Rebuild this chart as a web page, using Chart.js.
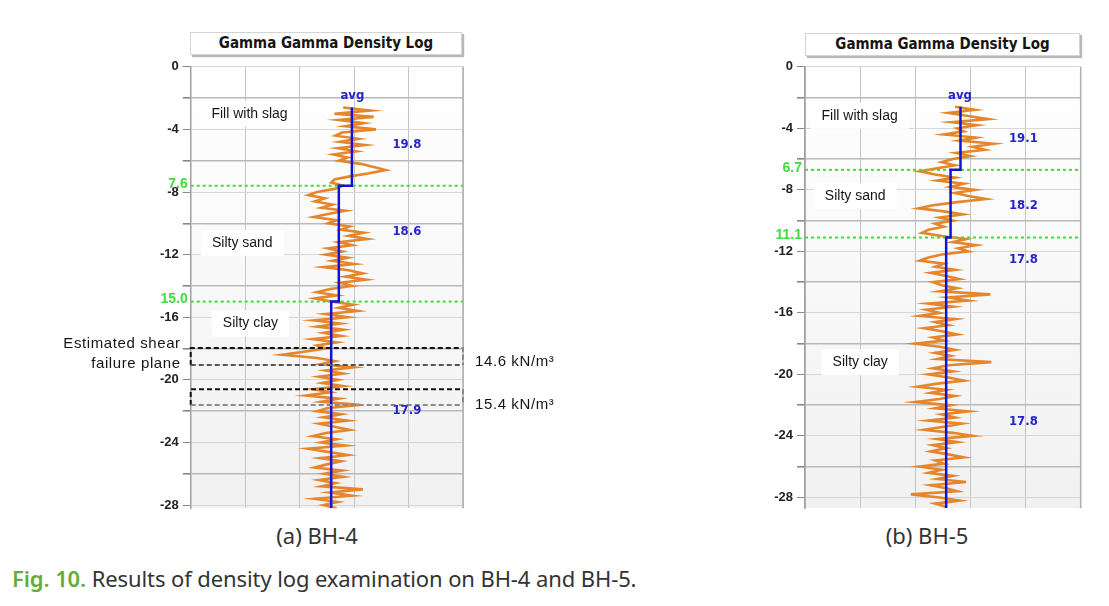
<!DOCTYPE html>
<html>
<head>
<meta charset="utf-8">
<script src="https://cdn.jsdelivr.net/npm/chart.js@4.4.1/dist/chart.umd.min.js"></script>
<style>
body{margin:0;width:1109px;height:606px;background:#fff;position:relative;overflow:hidden;font-family:'Noto Sans',sans-serif;}
canvas{position:absolute;}
.title{position:absolute;height:21px;border:1px solid #d4d4d4;box-shadow:2px 2px 1px #b8b8b8;background:#fff;font:bold 15px 'DejaVu Sans Condensed',sans-serif;text-align:center;line-height:21px;color:#151515;}
.cap{position:absolute;font-size:22px;color:#333;text-align:center;width:200px;}
.fig{position:absolute;left:12px;top:563px;font-size:22px;color:#333;letter-spacing:-0.1px;}
.fig b{color:#63ad37;font-weight:600;}
</style>
</head>
<body>
<div class="title" style="left:190px;top:32px;width:270px;">Gamma Gamma Density Log</div>
<div class="title" style="left:805px;top:33px;width:273px;">Gamma Gamma Density Log</div>
<canvas id="bh4" width="540" height="465" style="left:30px;top:55px;width:540px;height:465px;"></canvas>
<canvas id="bh5" width="360" height="465" style="left:740px;top:55px;width:360px;height:465px;"></canvas>
<div class="cap" style="left:217px;top:520px;">(a) BH-4</div>
<div class="cap" style="left:827px;top:520px;">(b) BH-5</div>
<div class="fig"><b>Fig. 10.</b> Results of density log examination on BH-4 and BH-5.</div>
<script>
// depth sampling of the logs (m)
const depthStep = 0.2;
const bh4Top = 2.6;
const bh5Top = 2.6;

// BH-4 density readings, kN/m3, from 2.6 m downwards
const bh4Density = [
  19.0,21.5,18.2,21.8,18.6,20.9,19.2,22.0,18.9,18.3,20.4,18.7,21.0,18.5,20.2,18.1,19.4,18.6,20.6,21.8,22.9,21.4,19.6,18.2,17.9,19.0,
  18.2,16.6,15.8,17.3,16.4,18.0,17.0,19.2,17.6,16.3,18.4,17.6,19.6,18.8,20.9,19.5,21.2,18.6,19.8,17.6,
  18.9,17.4,19.4,18.0,20.0,17.2,19.5,20.8,19.2,21.1,18.7,19.8,17.8,16.6,18.4,16.4,17.9,
  19.9,18.6,20.3,17.4,19.4,16.3,18.7,16.6,19.0,17.2,18.8,16.2,18.4,16.6,17.4,15.4,13.4,16.6,18.2,16.9,
  19.9,17.4,19.0,16.8,18.5,17.1,19.0,16.3,17.8,15.6,18.6,17.0,20.5,17.6,16.6,18.8,17.2,19.4,16.8,18.2,
  19.6,17.4,16.2,18.4,17.0,19.2,15.8,17.6,19.4,16.9,18.8,17.5,16.4,18.9,17.3,19.0,16.8,18.3,17.0,20.8,
  17.8,19.8,16.4,18.5,17.2,18.4
];
const bh4Bounds = [2.6, 7.6, 15.0];
const bh4Avg = [19.8, 18.6, 17.9];
const bh4Layers = ['Fill with slag', 'Silty sand', 'Silty clay'];

// BH-5 density readings
const bh5Density = [
  18.6,20.4,18.0,19.8,21.6,18.3,20.6,18.8,19.4,17.6,20.5,19.0,22.1,20.2,21.3,18.7,20.0,18.4,17.4,18.6,17.0,
  15.4,16.8,18.6,17.0,19.4,18.2,20.4,18.6,19.8,21.4,18.8,16.6,15.3,17.6,19.3,17.2,18.4,16.8,17.6,16.2,15.6,17.4,
  19.6,18.4,20.5,18.9,19.8,17.4,16.2,15.4,17.6,16.8,18.6,16.4,17.8,19.0,16.6,17.4,18.8,17.2,21.8,18.0,
  19.8,16.2,18.4,16.0,17.2,15.4,18.6,16.8,18.0,15.8,17.4,18.8,16.6,17.6,15.0,17.2,18.6,16.8,18.2,17.0,
  21.9,18.0,16.6,18.4,16.2,18.0,19.4,17.0,15.2,17.8,16.4,18.6,17.2,15.0,18.2,16.8,19.8,17.4,18.6,16.2,
  19.2,17.6,15.8,18.4,20.2,17.0,18.8,16.6,17.8,16.4,18.0,19.4,16.8,17.6,15.4,17.4,16.2,18.4,17.0,19.6,
  16.4,17.8,18.8,14.6,17.2,19.0,16.8,17.8
];
const bh5Bounds = [2.6, 6.7, 11.1];
const bh5Avg = [19.1, 18.2, 17.8];
const bh5Layers = ['Fill with slag', 'Silty sand', 'Silty clay'];

const yTicks = [0,-2,-4,-6,-8,-10,-12,-14,-16,-18,-20,-22,-24,-26,-28];

const orange = '#e5862c';
const blue = '#1212d6';
const green = '#3ddd3d';

const plotBg = {
  id: 'plotBg',
  beforeDraw(chart) {
    const {ctx, chartArea: a} = chart;
    const g = ctx.createLinearGradient(0, a.top, 0, a.bottom);
    g.addColorStop(0, '#ffffff');
    g.addColorStop(1, '#f1f1f1');
    ctx.save();
    ctx.fillStyle = g;
    ctx.fillRect(a.left, a.top, a.right - a.left, a.bottom - a.top);
    ctx.restore();
  },
  afterDraw(chart) {
    const {ctx, chartArea: a} = chart;
    ctx.save();
    ctx.strokeStyle = '#b0b0b0';
    ctx.lineWidth = 1.5;
    ctx.beginPath();
    ctx.moveTo(a.right, a.top);
    ctx.lineTo(a.right, a.bottom);
    ctx.stroke();
    ctx.restore();
  }
};

const logLabels = {
  id: 'logLabels',
  beforeDatasetsDraw(chart, args, o) {
    const {ctx, scales: {x, y}} = chart;
    ctx.save();
    ctx.font = '14px "Liberation Sans", Arial, sans-serif';
    ctx.textBaseline = 'middle';
    ctx.textAlign = 'left';
    o.layers.forEach(l => {
      const px = x.getPixelForValue(l.x), py = y.getPixelForValue(-l.d);
      const w = ctx.measureText(l.text).width;
      ctx.fillStyle = '#ffffff';
      ctx.fillRect(px - 11, py - 13, w + 22, 26);
      ctx.fillStyle = '#151515';
      ctx.fillText(l.text, px, py);
    });
    ctx.restore();
  },
  afterDatasetsDraw(chart, args, o) {
    const {ctx, chartArea: a, scales: {x, y}} = chart;
    ctx.save();
    // dashed boxes
    (o.boxes || []).forEach(b => {
      const t = y.getPixelForValue(-b.top), btm = y.getPixelForValue(-b.bottom);
      ctx.lineWidth = 2;
      ctx.setLineDash([5, 3]);
      ctx.strokeStyle = '#111';
      ctx.beginPath();
      ctx.moveTo(a.left, btm); ctx.lineTo(a.left, t); ctx.lineTo(a.right, t); ctx.lineTo(a.right, btm);
      ctx.stroke();
      ctx.strokeStyle = b.bottomColor;
      ctx.beginPath();
      ctx.moveTo(a.left, btm); ctx.lineTo(a.right, btm);
      ctx.stroke();
    });
    ctx.setLineDash([]);
    // avg value labels
    ctx.font = 'bold 13px "DejaVu Sans Condensed", sans-serif';
    ctx.fillStyle = '#2424c8';
    ctx.textAlign = 'center';
    ctx.textBaseline = 'middle';
    o.values.forEach(v => {
      ctx.fillText(v.text, x.getPixelForValue(v.x), y.getPixelForValue(-v.d));
    });
    // boundary depths
    ctx.font = 'bold 14px "Liberation Sans", Arial, sans-serif';
    ctx.fillStyle = green;
    ctx.textAlign = 'right';
    o.bounds.forEach(d => {
      ctx.fillText(d.toFixed(1), a.left - 3, y.getPixelForValue(-d) - 2);
    });
    // side notes
    ctx.font = '15px "Liberation Sans", Arial, sans-serif';
    ctx.letterSpacing = '0.6px';
    ctx.fillStyle = '#151515';
    (o.notes || []).forEach(n => {
      ctx.textAlign = n.side === 'left' ? 'right' : 'left';
      const px = n.side === 'left' ? a.left - 10 : a.right + 12;
      ctx.fillText(n.text, px, y.getPixelForValue(-n.d));
    });
    ctx.restore();
  }
};

function logPoints(top, values) {
  return values.map((v, i) => ({x: v, y: -Math.round((top + i * depthStep) * 10) / 10}));
}

function avgPoints(bounds, avg, bottom) {
  const pts = [];
  avg.forEach((v, k) => {
    const end = k + 1 < bounds.length ? bounds[k + 1] : bottom;
    pts.push({x: v, y: -bounds[k]}, {x: v, y: -end});
  });
  return pts;
}

function makeLog(id, cfg) {
  const datasets = [
    {data: logPoints(cfg.top, cfg.density), borderColor: orange, borderWidth: 2.6, pointRadius: 0, showLine: true, tension: 0, order: 3},
    {data: avgPoints(cfg.bounds, cfg.avg, cfg.bottom), borderColor: blue, borderWidth: 2.5, pointRadius: 0, showLine: true, order: 1}
  ];
  cfg.bounds.slice(1).forEach(d => {
    datasets.push({data: [{x: 5, y: -d}, {x: 30, y: -d}], borderColor: green, borderWidth: 2, borderDash: [3, 3], pointRadius: 0, showLine: true, order: 2});
  });
  new Chart(document.getElementById(id), {
    type: 'scatter',
    data: {datasets},
    options: {
      responsive: false,
      animation: false,
      layout: {padding: cfg.padding},
      plugins: {
        legend: {display: false},
        tooltip: {enabled: false},
        logLabels: cfg.labels
      },
      scales: {
        x: {
          min: 5, max: 30,
          ticks: {display: false, stepSize: 5},
          grid: {color: '#c4c4c4', drawTicks: false},
          border: {display: false},
          afterFit(s) { s.height = 0; }
        },
        y: {
          min: -cfg.bottom, max: 0,
          afterBuildTicks(s) { s.ticks = yTicks.map(v => ({value: v})); },
          afterFit(s) { s.width = cfg.axisWidth; },
          ticks: {
            autoSkip: false,
            padding: 4,
            color: '#222',
            font: {family: '"Liberation Sans", Arial, sans-serif', size: 13, weight: 'bold'},
            callback: v => (v % 4 === 0 ? v : '')
          },
          grid: {
            tickLength: 8,
            tickColor: '#888',
            color: c => (c.tick && Math.abs(c.tick.value) % 4 === 2 ? '#b9b9b9' : '#d6d6d6'),
            lineWidth: c => (c.tick && Math.abs(c.tick.value) % 4 === 2 ? 1.6 : 1)
          },
          border: {color: '#a0a0a0', width: 1.5}
        }
      }
    },
    plugins: [plotBg, logLabels]
  });
}

makeLog('bh4', {
  top: bh4Top, density: bh4Density, bounds: bh4Bounds, avg: bh4Avg, bottom: 28.2,
  axisWidth: 160.7, padding: {top: 9, right: 107, bottom: 7, left: 0},
  labels: {
    layers: [
      {text: bh4Layers[0], x: 6.9, d: 3.0},
      {text: bh4Layers[1], x: 6.95, d: 11.24},
      {text: bh4Layers[2], x: 7.95, d: 16.4}
    ],
    values: [
      {text: 'avg', x: 19.84, d: 1.84},
      {text: bh4Avg[0].toFixed(1), x: 24.85, d: 4.98},
      {text: bh4Avg[1].toFixed(1), x: 24.85, d: 10.53},
      {text: bh4Avg[2].toFixed(1), x: 24.85, d: 21.97}
    ],
    bounds: bh4Bounds.slice(1),
    boxes: [
      {top: 17.97, bottom: 19.05, bottomColor: '#555'},
      {top: 20.6, bottom: 21.6, bottomColor: '#8a8a8a'}
    ],
    notes: [
      {text: 'Estimated shear', d: 17.7, side: 'left'},
      {text: 'failure plane', d: 18.97, side: 'left'},
      {text: '14.6 kN/m³', d: 18.84, side: 'right'},
      {text: '15.4 kN/m³', d: 21.58, side: 'right'}
    ]
  }
});

makeLog('bh5', {
  top: bh5Top, density: bh5Density, bounds: bh5Bounds, avg: bh5Avg, bottom: 28.7,
  axisWidth: 65, padding: {top: 9.5, right: 19.3, bottom: 7, left: 0},
  labels: {
    layers: [
      {text: bh5Layers[0], x: 6.5, d: 3.19},
      {text: bh5Layers[1], x: 6.8, d: 8.41},
      {text: bh5Layers[2], x: 7.5, d: 19.2}
    ],
    values: [
      {text: 'avg', x: 19.05, d: 1.85},
      {text: bh5Avg[0].toFixed(1), x: 24.8, d: 4.67},
      {text: bh5Avg[1].toFixed(1), x: 24.8, d: 9.01},
      {text: bh5Avg[2].toFixed(1), x: 24.8, d: 12.53},
      {text: bh5Avg[2].toFixed(1), x: 24.8, d: 23.1}
    ],
    bounds: bh5Bounds.slice(1)
  }
});
</script>
</body>
</html>
